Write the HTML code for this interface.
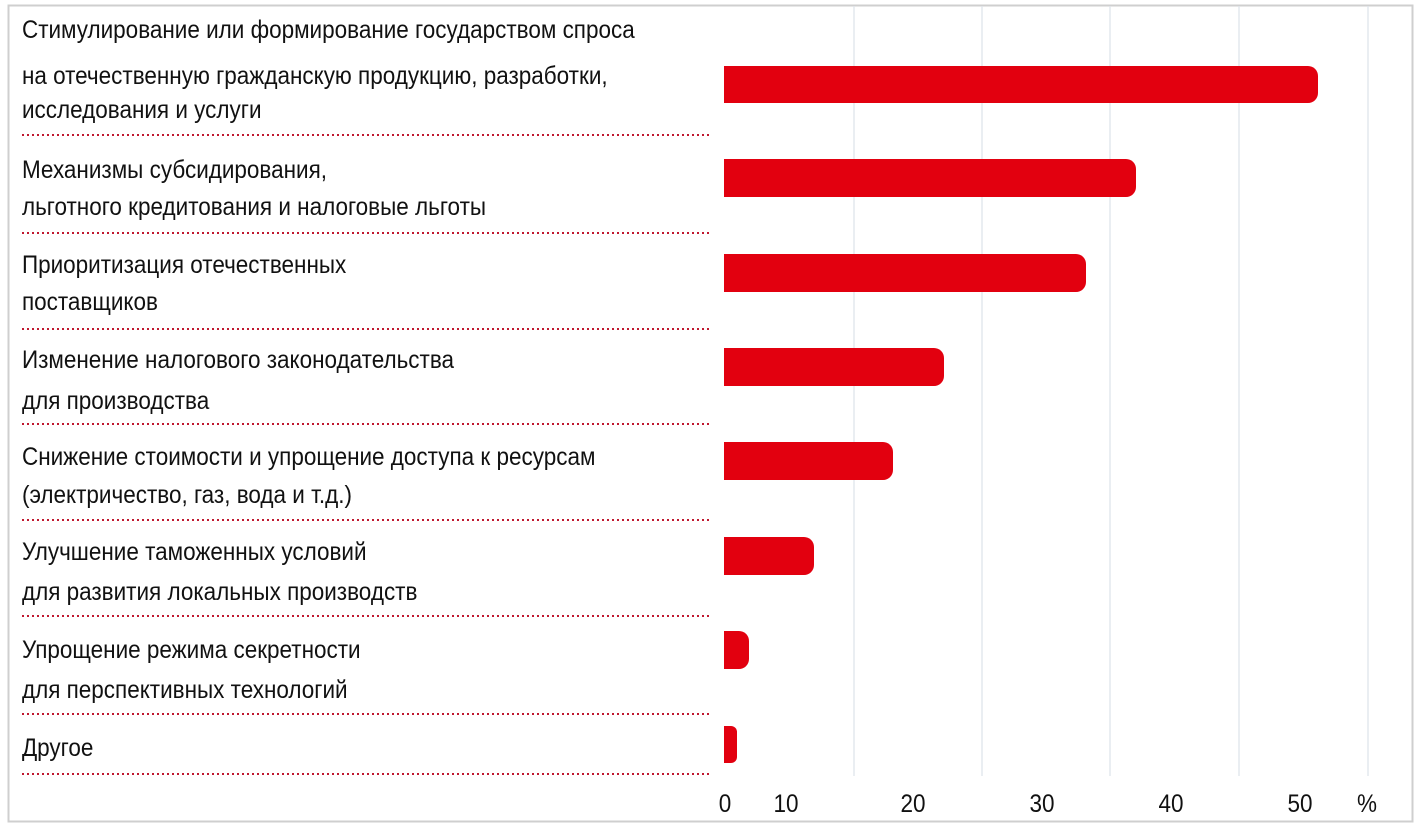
<!DOCTYPE html>
<html><head><meta charset="utf-8"><style>
html,body{margin:0;padding:0;background:#fff;}
svg{display:block;}
text{font-family:"Liberation Sans",sans-serif;font-size:25px;fill:#111;}
</style></head><body>
<svg width="1424" height="831" viewBox="0 0 1424 831">
<rect x="8.5" y="5.5" width="1404" height="816" fill="#fff" stroke="#cfcfcf" stroke-width="2"/>
<g stroke="#dde3ea" stroke-width="1.2">
<line x1="854" y1="6" x2="854" y2="776"/>
<line x1="982" y1="6" x2="982" y2="776"/>
<line x1="1110" y1="6" x2="1110" y2="776"/>
<line x1="1239" y1="6" x2="1239" y2="776"/>
<line x1="1368" y1="6" x2="1368" y2="776"/>
</g>
<g stroke="#c0182f" stroke-width="2" stroke-dasharray="2,3">
<line x1="22" y1="135" x2="710" y2="135"/>
<line x1="22" y1="233" x2="710" y2="233"/>
<line x1="22" y1="329" x2="710" y2="329"/>
<line x1="22" y1="424" x2="710" y2="424"/>
<line x1="22" y1="520" x2="710" y2="520"/>
<line x1="22" y1="616" x2="710" y2="616"/>
<line x1="22" y1="714" x2="710" y2="714"/>
<line x1="22" y1="774" x2="710" y2="774"/>
</g>
<g fill="#e2000f">
<path d="M724 66 H1308 a10 10 0 0 1 10 10 V93 a10 10 0 0 1 -10 10 H724Z"/>
<path d="M724 159 H1126 a10 10 0 0 1 10 10 V187 a10 10 0 0 1 -10 10 H724Z"/>
<path d="M724 254 H1076 a10 10 0 0 1 10 10 V282 a10 10 0 0 1 -10 10 H724Z"/>
<path d="M724 348 H934 a10 10 0 0 1 10 10 V376 a10 10 0 0 1 -10 10 H724Z"/>
<path d="M724 442 H883 a10 10 0 0 1 10 10 V470 a10 10 0 0 1 -10 10 H724Z"/>
<path d="M724 537 H804 a10 10 0 0 1 10 10 V565 a10 10 0 0 1 -10 10 H724Z"/>
<path d="M724 631 H739 a10 10 0 0 1 10 10 V659 a10 10 0 0 1 -10 10 H724Z"/>
<path d="M724 726 H731 a6 6 0 0 1 6 6 V757 a6 6 0 0 1 -6 6 H724Z"/>
</g>
<g transform="scale(0.9,1)">
<text x="24.4" y="38">Стимулирование или формирование государством спроса</text>
<text x="24.4" y="84">на отечественную гражданскую продукцию, разработки,</text>
<text x="24.4" y="118">исследования и услуги</text>
<text x="24.4" y="178">Механизмы субсидирования,</text>
<text x="24.4" y="215">льготного кредитования и налоговые льготы</text>
<text x="24.4" y="273">Приоритизация отечественных</text>
<text x="24.4" y="310">поставщиков</text>
<text x="24.4" y="368">Изменение налогового законодательства</text>
<text x="24.4" y="409">для производства</text>
<text x="24.4" y="465">Снижение стоимости и упрощение доступа к ресурсам</text>
<text x="24.4" y="503">(электричество, газ, вода и т.д.)</text>
<text x="24.4" y="560">Улучшение таможенных условий</text>
<text x="24.4" y="600">для развития локальных производств</text>
<text x="24.4" y="658">Упрощение режима секретности</text>
<text x="24.4" y="698">для перспективных технологий</text>
<text x="24.4" y="756">Другое</text>
<g text-anchor="middle">
<text x="805.6" y="812">0</text>
<text x="873.3" y="812">10</text>
<text x="1014.4" y="812">20</text>
<text x="1157.8" y="812">30</text>
<text x="1301.1" y="812">40</text>
<text x="1444.4" y="812">50</text>
<text x="1518.9" y="812">%</text>
</g>
</g>
</svg>
</body></html>
